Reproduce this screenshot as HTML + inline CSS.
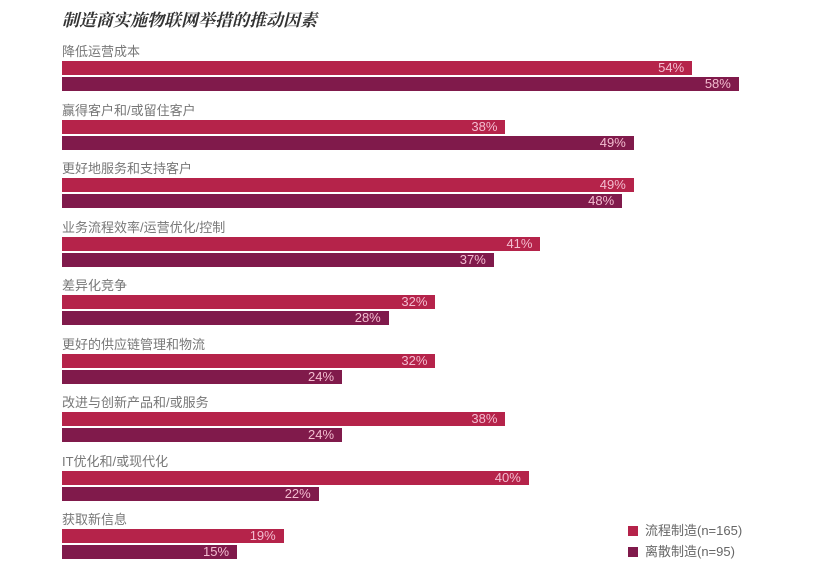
<!DOCTYPE html>
<html><head><meta charset="utf-8"><style>
body{margin:0;width:820px;height:564px;background:#fff;position:relative;overflow:hidden;font-family:"Liberation Sans","Noto Sans CJK SC",sans-serif}
.t{position:absolute;left:62px;top:6px;font:italic bold 17px "Liberation Serif","Noto Serif CJK SC",serif;color:#333}
.l{position:absolute;left:62px;font-size:13px;color:#777;line-height:14px}
.b{position:absolute;left:62px;height:14px;color:#f3bdd0;font-size:13px;line-height:14px;text-align:right;box-sizing:border-box;padding-right:8px}
.b1{background:#b5234a}.b2{background:#801a4b}
.lg{position:absolute;font-size:13px;color:#666;line-height:14px}
.sq{display:inline-block;width:10px;height:10px;margin-right:7px;vertical-align:-1px}
</style></head><body>
<div class="t">制造商实施物联网举措的推动因素</div>
<div id="c"></div>
<div class="lg" style="left:628px;top:524px"><span class="sq b1"></span>流程制造(n=165)</div>
<div class="lg" style="left:628px;top:545px"><span class="sq b2"></span>离散制造(n=95)</div>
<script>
var d=[["降低运营成本",54,58],["赢得客户和/或留住客户",38,49],["更好地服务和支持客户",49,48],["业务流程效率/运营优化/控制",41,37],["差异化竞争",32,28],["更好的供应链管理和物流",32,24],["改进与创新产品和/或服务",38,24],["IT优化和/或现代化",40,22],["获取新信息",19,15]];
var h="";d.forEach(function(r,i){var y=61+58.5*i;
h+='<div class="l" style="top:'+(y-16)+'px">'+r[0]+'</div>';
h+='<div class="b b1" style="top:'+y+'px;width:'+(r[1]*11.67)+'px">'+r[1]+'%</div>';
h+='<div class="b b2" style="top:'+(y+16)+'px;width:'+(r[2]*11.67)+'px">'+r[2]+'%</div>';});
document.getElementById("c").innerHTML=h;
</script>
</body></html>
